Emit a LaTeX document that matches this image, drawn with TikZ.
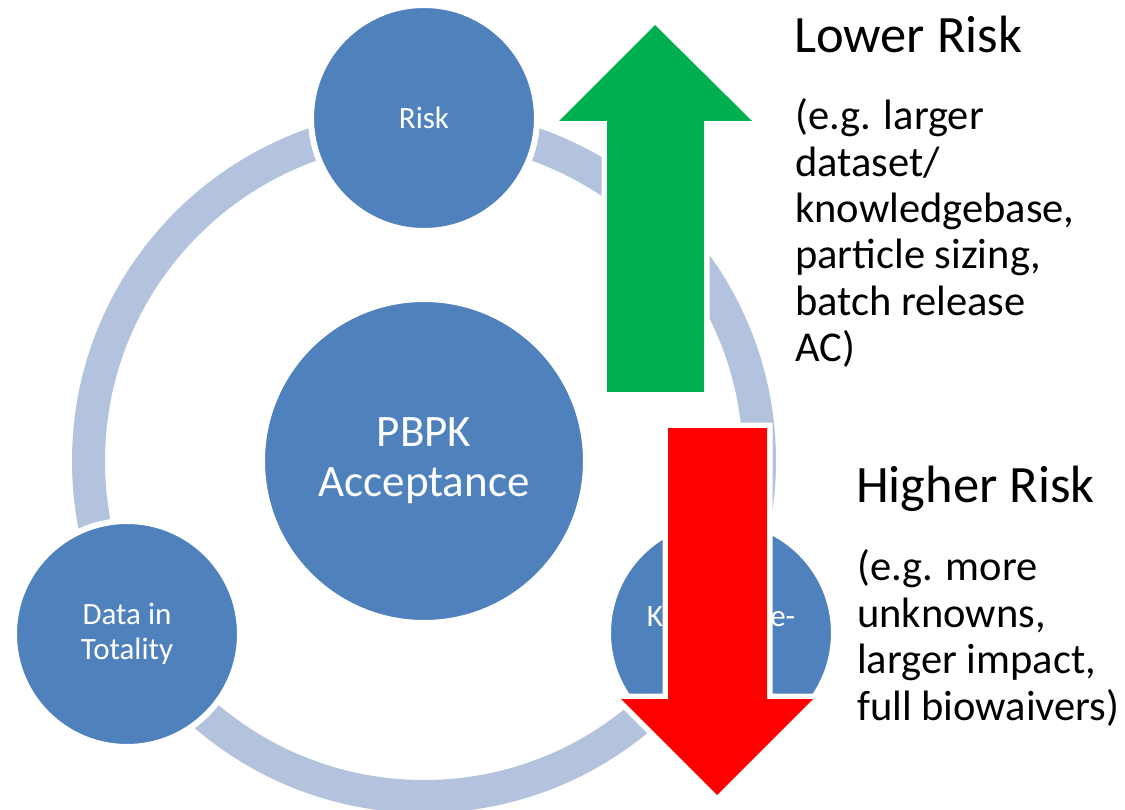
\documentclass[tikz,border=0pt]{standalone}
\usepackage{fontspec}
\setmainfont{Carlito}
\definecolor{nodeblue}{HTML}{4F81BD}
\definecolor{cyclering}{HTML}{B3C2DD}
\definecolor{upgreen}{HTML}{00B050}
\definecolor{downred}{HTML}{FF0000}
\tikzset{
  stage/.style={circle, fill=nodeblue, draw=white, line width=6pt,
    minimum size=226pt, inner sep=0pt, text=white, align=center,
    font=\fontsize{31}{35}\selectfont},
  hub/.style={stage, minimum size=324pt, font=\fontsize{45}{50}\selectfont},
  heading/.style={anchor=base west, inner sep=0pt, font=\fontsize{52.5}{60}\selectfont},
  % anchored at the baseline of the last line
  notes/.style={anchor=base west, inner sep=0pt, align=left,
    font=\fontsize{42.5}{46.5}\selectfont},
  bigarrow/.style={preaction={draw=white, line width=11pt, line join=miter}},
}
\begin{document}
\begin{tikzpicture}[x=1pt, y=-1pt]
\useasboundingbox (0,0) rectangle (1125,810);

% the cycle ring behind the stages
\coordinate (centre) at (424,461);
\draw[cyclering, line width=33pt] (centre) circle[radius=335.5];

% stages on the ring and the hub
\node[stage] (risk) at (424,118) {Risk};
\node[stage] (data) at (127,634) {Data in\\Totality};
\node[stage] (know) at (721,633) {Knowledge-\\\phantom{based}};
\node[hub] (pbpk) at (centre) {\raisebox{-3pt}{PBPK}\\\raisebox{-3pt}{Acceptance}};

% lower-risk arrow
\fill[upgreen, bigarrow] (607,392) -- (607,121) -- (559,121) -- (655,25)
  -- (752,121) -- (704,121) -- (704,392) -- cycle;

% higher-risk arrow
\fill[downred, bigarrow] (668,428) -- (767,428) -- (767,699) -- (813,699)
  -- (717,795) -- (621,699) -- (668,699) -- cycle;

% captions
\node[heading] (lowtitle) at (794,53) {Lower Risk};
\node[notes] (lownotes) at (795,362) {(e.g. larger\\dataset/\\knowledgebase,\\particle sizing,\\batch release\\AC)};
\node[heading] (hightitle) at (856,502) {Higher Risk};
\node[notes] (highnotes) at (857,720) {(e.g. more\\unknowns,\\larger impact,\\full biowaivers)};
\end{tikzpicture}
\end{document}
